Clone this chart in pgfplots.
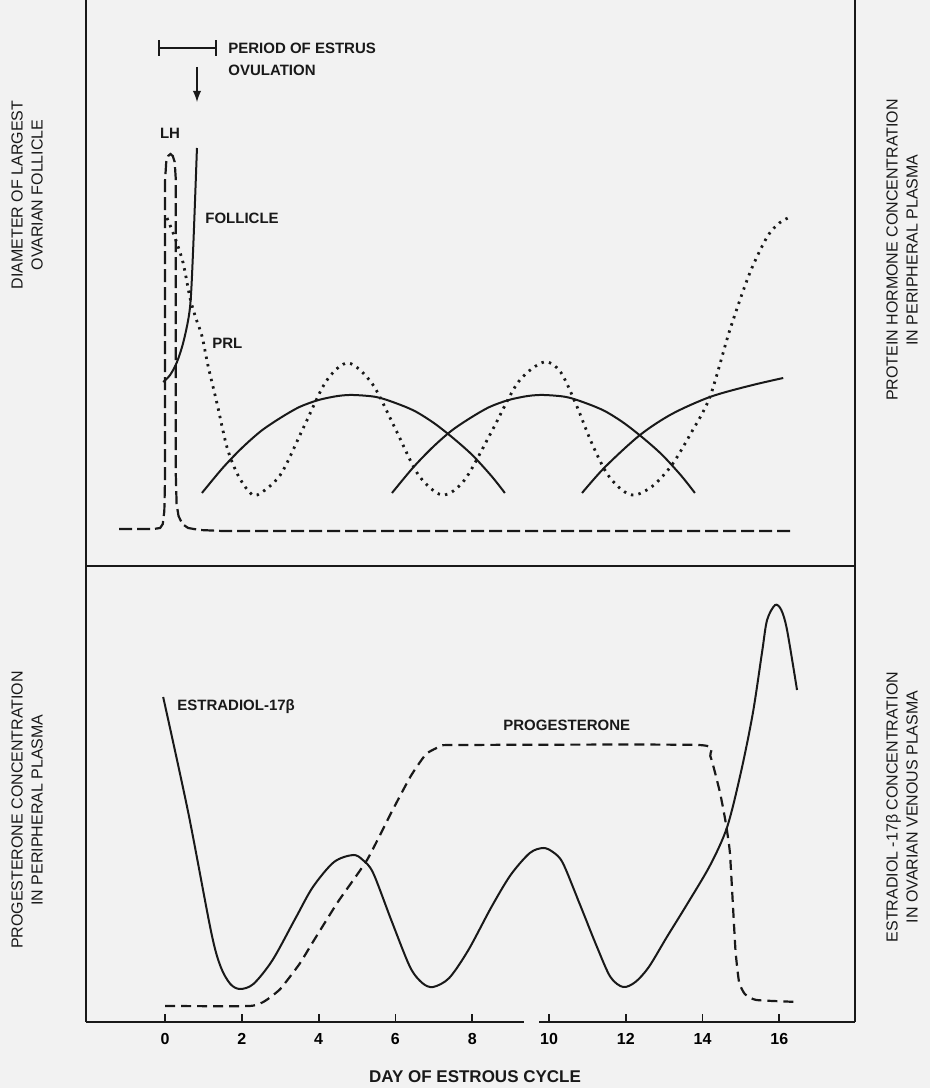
\documentclass[border=0pt]{standalone}
\usepackage{pgfplots}
\pgfplotsset{compat=1.18}
\usepackage{pgfplotstable}
\usepackage{fontspec}
\setmainfont{Liberation Sans}

% top panel: protein hormones (y in px above the divider)
\pgfplotstableread{
x y
-1.2 37
-0.3 37
-0.13 38
-0.06 42
-0.02 55
0.0 90
0.0 386
0.03 404
0.08 410
0.14 412
0.2 410
0.25 404
0.28 386
0.28 90
0.3 62
0.35 50
0.45 42
0.6 38
0.9 36
1.5 35
16.3 35
}\lh
\pgfplotstableread{
x y
-0.05 184
0.13 191
0.31 204
0.49 226
0.65 259
0.73 316
0.83 418
}\follicle
\pgfplotstableread{
x y
0.05 348
0.26 328
0.47 303
0.65 268
0.8 248
0.96 230
1.12 200
1.35 163
1.61 119
1.87 93
2.15 76
2.4 71
3.0 91
3.6 138
4.2 185
4.77 203
5.4 182
6.0 137
6.6 91
7.22 71
7.8 86
8.5 134
9.2 184
9.87 204
10.3 194
10.7 162
11.1 124
11.5 93
11.9 76
12.24 71
12.7 80
13.2 101
13.7 133
14.19 169
14.71 236
15.23 293
15.68 329
16.0 343
16.28 349
}\prl
\pgfplotstableread{
x y
0.96 73
1.5 98
2.0 118
2.5 135
3.0 148
3.5 159
4.0 166
4.5 170
4.9 171
5.5 169
6.0 163
6.5 155
7.0 143
7.5 128
8.0 111
8.5 90
8.85 73
}\arcA
\pgfplotstableread{
x y
5.91 73
6.45 98
6.95 118
7.45 135
7.95 148
8.45 159
8.95 166
9.45 170
9.86 171
10.45 169
10.95 163
11.45 155
11.95 143
12.45 128
12.95 111
13.45 90
13.8 73
}\arcB
\pgfplotstableread{
x y
10.86 73
11.46 99
12.37 131
13.2 152
14.19 169
15.2 180
16.1 188
}\arcC

% bottom panel: steroids (y in px above the day axis)
\pgfplotstableread{
x y
-0.05 325
0.6 210
1.2 90
1.45 55
1.7 38
1.95 33
2.3 38
2.8 62
3.4 104
3.85 135
4.4 160
4.9 167
5.15 162
5.42 149
5.9 101
6.38 55
6.7 39
6.98 35
7.4 44
7.9 72
8.5 115
9.0 147
9.5 169
9.85 174
10.1 170
10.36 159
10.8 118
11.25 75
11.6 45
11.93 35
12.25 40
12.6 55
13.07 85
13.6 118
14.2 157
14.64 195
15.0 250
15.31 309
15.55 370
15.68 402
15.89 417
16.05 412
16.2 392
16.46 332
}\estradiol
\pgfplotstableread{
x y
0 16
2.2 16
2.6 21
3.0 33
3.5 58
3.85 80
4.5 120
5.26 162
5.9 210
6.4 246
6.8 268
7.2 276
7.6 277
13.9 277
14.2 266
14.45 230
14.6 200
14.71 170
14.8 110
14.86 70
14.95 40
15.1 28
15.4 22
16.5 20
}\progesterone

\begin{document}
\begin{tikzpicture}[x=0.5pt, y=0.5pt]
\fill[black!5] (0,0) rectangle (930,1088);
\path[use as bounding box] (0,0) rectangle (930,1088);

\pgfplotsset{
  panel/.style={
    scale only axis, width=384.5pt,
    xmin=-2.06, xmax=17.97, ymin=0,
    axis x line*=bottom, axis y line*=box,
    ytick=\empty,
    axis line style={line width=0.9pt, black!90},
    clip=false,
  },
  solid curve/.style={black!90, line width=1pt, smooth, tension=0.5, no marks},
}

\begin{axis}[panel, at={(43pt,261pt)}, anchor=south west,
  height=283pt, ymax=566, xtick=\empty]
  \addplot[black!90, line width=1.1pt, dash pattern=on 6.5pt off 2.5pt, no marks] table {\lh};
  \addplot[solid curve] table {\follicle};
  \addplot[black!90, line width=1.4pt, dash pattern=on 1.2pt off 2.6pt, smooth, tension=0.5, no marks] table {\prl};
  \addplot[solid curve] table {\arcA};
  \addplot[solid curve] table {\arcB};
  \addplot[solid curve] table {\arcC};
\end{axis}

\begin{axis}[panel, at={(43pt,33pt)}, anchor=south west,
  height=228pt, ymax=456,
  x axis line style={draw=none},
  xtick={0,2,...,16}, xticklabels={0,2,4,6,8,10,12,14,16},
  tick align=inside, major tick length=4pt,
  tick style={line width=0.9pt, black!90},
  xticklabel style={font=\bfseries\fontsize{8}{9}\selectfont, yshift=-2pt}]
  \draw[line width=0.9pt, black!90] (rel axis cs:0,0) -- (axis cs:9.35,0);
  \draw[line width=0.9pt, black!90] (axis cs:9.74,0) -- (rel axis cs:1,0);
  \addplot[solid curve] table {\estradiol};
  \addplot[black!90, line width=1.1pt, dash pattern=on 5pt off 3pt, smooth, tension=0.3, no marks] table {\progesterone};
\end{axis}

% annotations
\begin{scope}[every node/.style={font=\bfseries\fontsize{7.5}{9}\selectfont, inner sep=0pt, text=black!90}]
  \draw[black!90, line width=0.9pt, |-|] (158,1040) -- (217,1040);
  \node[anchor=west] at (228,1040) {PERIOD OF ESTRUS};
  \node[anchor=west] at (228,1018) {OVULATION};
  \draw[black!90, line width=0.9pt, -latex] (197,1021) -- (197,986);
  \node at (170,955) {LH};
  \node[anchor=west] at (205,870) {FOLLICLE};
  \node[anchor=west] at (212,745) {PRL};
  \node[anchor=west] at (177,381) {ESTRADIOL-17β};
  \node[anchor=west] at (503,363) {PROGESTERONE};
\end{scope}

\node[font=\bfseries\fontsize{8.5}{10}\selectfont, text=black!90] at (475,11) {DAY OF ESTROUS CYCLE};

\begin{scope}[every node/.style={rotate=90, align=center, text=black!90, font=\fontsize{8}{10}\selectfont}]
  \node at (27,893) {DIAMETER OF LARGEST\\OVARIAN FOLLICLE};
  \node at (27,278) {PROGESTERONE CONCENTRATION\\IN PERIPHERAL PLASMA};
  \node at (902,838) {PROTEIN HORMONE CONCENTRATION\\IN PERIPHERAL PLASMA};
  \node at (902,281) {ESTRADIOL -17β CONCENTRATION\\IN OVARIAN VENOUS PLASMA};
\end{scope}
\end{tikzpicture}
\end{document}
